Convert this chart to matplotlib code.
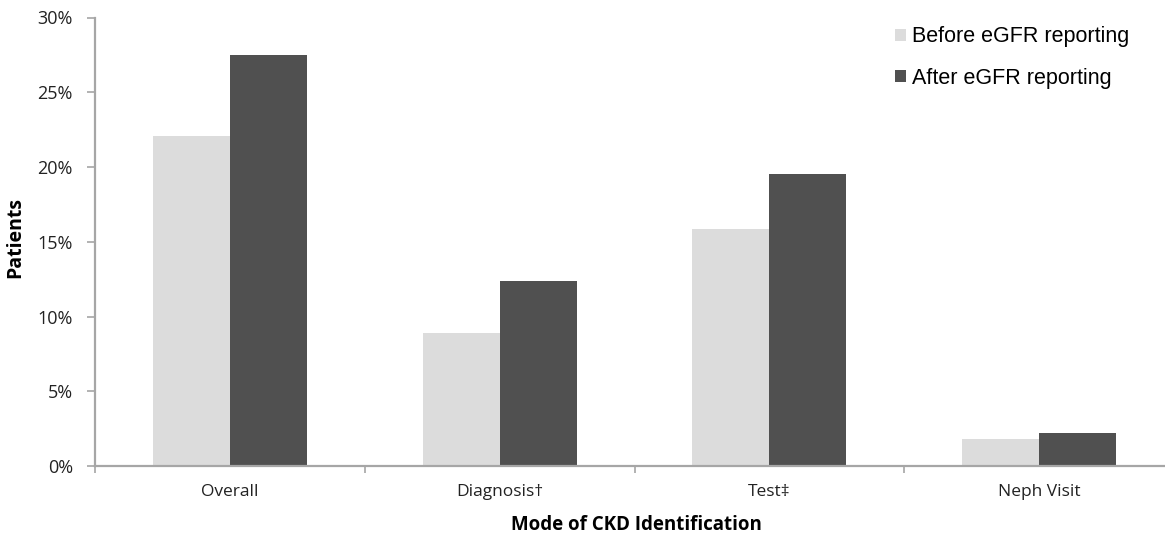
import matplotlib.pyplot as plt
import numpy as np
from matplotlib.ticker import FuncFormatter

categories = ["Overall", "Diagnosis\u2020", "Test\u2021", "Neph Visit"]
before = [22.1, 8.9, 15.85, 1.8]
after = [27.5, 12.35, 19.55, 2.2]
series_names = ["Before eGFR reporting", "After eGFR reporting"]

light = "#dcdcdc"
dark = "#505050"
axis_gray = "#a6a6a6"
tick_font = "Open Sans"

fig = plt.figure(figsize=(11.65, 5.36), dpi=100)
ax = fig.add_axes([95 / 1165, 70 / 536, 1079 / 1165, 448.5 / 536])

x = np.arange(len(categories))
width = 0.285
ax.bar(x - width / 2, before, width=width, color=light, label=series_names[0])
ax.bar(x + width / 2, after, width=width, color=dark, label=series_names[1])

ax.set_xlim(-0.5, len(categories) - 0.5)
ax.set_ylim(0, 30)
ax.set_yticks(range(0, 31, 5))
ax.yaxis.set_major_formatter(FuncFormatter(lambda v, _: f"{v:.0f}%"))

# category labels centred, ticks on the boundaries
ax.set_xticks(np.arange(len(categories) + 1) - 0.5)
ax.set_xticklabels([])
ax.set_xticks(x, minor=True)
ax.set_xticklabels(categories, minor=True, fontsize=12.5, family=tick_font, color="#222222")
ax.tick_params(axis="x", which="minor", length=0, pad=13)
ax.tick_params(axis="x", which="major", length=5, width=1.2, color=axis_gray, direction="out")
ax.tick_params(axis="y", length=6, width=1.2, color=axis_gray, direction="out", pad=10)
for lbl in ax.get_yticklabels():
    lbl.set_fontsize(13)
    lbl.set_family(tick_font)
    lbl.set_color("#222222")

for side in ("top", "right"):
    ax.spines[side].set_visible(False)
for side in ("left", "bottom"):
    ax.spines[side].set_color(axis_gray)
    ax.spines[side].set_linewidth(1.6)

ax.set_ylabel("Patients", fontsize=14, fontweight="bold", family=tick_font)
ax.yaxis.set_label_coords(-70 / 1079, (466 - 238) / 448.5)
ax.set_xlabel("Mode of CKD Identification", fontsize=13.5, fontweight="bold", family=tick_font,
              va="center")
ax.xaxis.set_label_coords(541 / 1079, -59 / 448.5)

fig.legend(
    loc="upper left",
    bbox_to_anchor=(876 / 1165, 1 - 7 / 536),
    frameon=False,
    prop={"family": "Liberation Sans", "size": 15.5},
    handlelength=0.5,
    handleheight=0.5,
    handletextpad=0.25,
    labelspacing=0.95,
)

fig.savefig("out.png", dpi=100)
